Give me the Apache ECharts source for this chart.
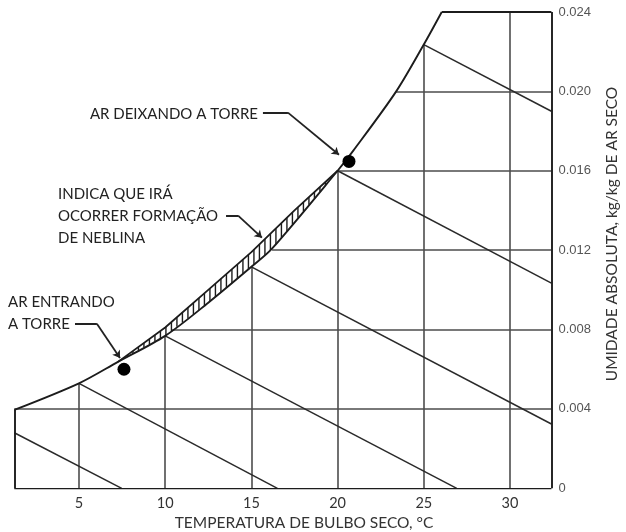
<!DOCTYPE html>
<html>
<head>
<meta charset="utf-8">
<script src="https://cdn.jsdelivr.net/npm/echarts@6/dist/echarts.min.js"></script>
<style>
  html, body { margin: 0; padding: 0; background: #fff; }
  #chart { width: 626px; height: 532px; }
</style>
</head>
<body>
<div id="chart"></div>
<script>
// Axis extents (dry-bulb temperature in °C, humidity ratio in kg/kg dry air)
const tempMin = 1.25;
const tempMax = 32.4;
const humMax = 0.024;
const tempTicks = [5, 10, 15, 20, 25, 30];
const humTicks = [0, 0.004, 0.008, 0.012, 0.016, 0.020, 0.024];

// Saturation curve
const satTemp = [1.25, 5, 7.26, 10, 12.5, 15, 16.18, 20, 20.9, 23.4, 25, 26.04];
const satHum  = [0.00395, 0.00529, 0.00637, 0.00768, 0.00935, 0.01116, 0.01206, 0.0160, 0.0170, 0.0200, 0.02236, 0.024];

// Air path through the tower (upper edge of the fog zone)
const towerTemp = [7.26, 10, 12.5, 15, 17.5, 20];
const towerHum  = [0.00637, 0.0081, 0.0100, 0.0119, 0.0140, 0.0160];

// Inlet / outlet air states
const stateTemp = [7.61, 20.66];
const stateHum  = [0.0060, 0.01647];

// Constant dry-bulb grid lines: top ends on the saturation curve
const gridTempTop = [0.00529, 0.00768, 0.01116, 0.0160, 0.02236, 0.024];
// Constant humidity grid lines: left ends on the saturation curve
const gridHum      = [0.004, 0.008, 0.012, 0.016, 0.020];
const gridHumStart = [1.25, 10.4, 16.2, 20.0, 23.4];

// Wet-bulb lines (start on saturation curve / left edge, end on chart border)
const wbStartT = [1.25, 5, 10, 15, 20, 25];
const wbStartW = [0.0028, 0.00529, 0.00768, 0.01116, 0.0160, 0.02236];
const wbEndT   = [7.48, 16.51, 26.91, 32.4, 32.4, 32.4];
const wbEndW   = [0, 0, 0, 0.00324, 0.01034, 0.0190];

// Leader lines for the callouts: [text end, elbow, arrow tip]
const leaderOut  = [[15.67, 0.01893], [17.12, 0.01893], [20.08, 0.01681]];
const leaderFog  = [[13.53, 0.01374], [14.23, 0.01374], [15.61, 0.01263]];
const leaderIn   = [[4.77, 0.00829], [6.04, 0.00829], [7.38, 0.00657]];

const INK = '#1c1c1c';
const GRID = '#4d4d4d';
const TEXT_FONT = 'Lato, "Open Sans", sans-serif';

const pairs = (xs, ys) => xs.map((x, i) => [x, ys[i]]);

const gridSegs = [];
tempTicks.forEach((t, i) => gridSegs.push({ coords: [[t, 0], [t, gridTempTop[i]]] }));
gridHum.forEach((w, i) => gridSegs.push({ coords: [[gridHumStart[i], w], [tempMax, w]] }));

const wbSegs = wbStartT.map((t, i) => ({ coords: [[t, wbStartW[i]], [wbEndT[i], wbEndW[i]]] }));

const frameSegs = [
  { coords: [[tempMin, 0], [tempMin, satHum[0]]] },
  { coords: [[tempMin, 0], [tempMax, 0]] },
  { coords: [[tempMax, 0], [tempMax, humMax]] },
  { coords: [[satTemp[satTemp.length - 1], humMax], [tempMax, humMax]] }
];

const leaders = [leaderOut, leaderFog, leaderIn];
const leaderFlat = leaders.map(l => ({ coords: [l[0], l[1]] }));
const leaderArrow = leaders.map(l => ({ coords: [l[1], l[2]] }));

function interpY(poly, x) {
  for (let i = 0; i < poly.length - 1; i++) {
    const a = poly[i], b = poly[i + 1];
    if (x >= a[0] && x <= b[0]) {
      const f = (x - a[0]) / (b[0] - a[0] || 1);
      return a[1] + f * (b[1] - a[1]);
    }
  }
  return null;
}

const chart = echarts.init(document.getElementById('chart'), null, { renderer: 'canvas' });

chart.setOption({
  animation: false,
  backgroundColor: '#ffffff',
  grid: { left: 14.3, right: 74.6, top: 12, bottom: 43.7 },
  xAxis: {
    type: 'value', min: tempMin, max: tempMax,
    axisLine: { show: false }, axisTick: { show: false }, splitLine: { show: false },
    axisLabel: {
      customValues: tempTicks, margin: 8,
      color: '#333', fontSize: 14.5, fontFamily: TEXT_FONT,
      formatter: v => String(v)
    }
  },
  yAxis: {
    type: 'value', position: 'right', min: 0, max: humMax, interval: 0.004,
    axisLine: { show: false }, axisTick: { show: false }, splitLine: { show: false },
    axisLabel: {
      margin: 7, color: '#555', fontSize: 13, fontFamily: '"Liberation Sans", Arial, sans-serif',
      formatter: v => (v === 0 ? '0' : v.toFixed(3))
    }
  },
  series: [
    {
      type: 'lines', coordinateSystem: 'cartesian2d', silent: true, z: 1,
      lineStyle: { color: GRID, width: 1.6, opacity: 1 },
      data: gridSegs
    },
    {
      type: 'lines', coordinateSystem: 'cartesian2d', silent: true, z: 2,
      lineStyle: { color: '#2a2a2a', width: 1.5, opacity: 1 },
      data: wbSegs
    },
    {
      type: 'lines', coordinateSystem: 'cartesian2d', silent: true, z: 3,
      lineStyle: { color: INK, width: 1.9, opacity: 1 },
      data: frameSegs
    },
    {
      type: 'line', silent: true, z: 3, symbol: 'none',
      smooth: 0.3,
      lineStyle: { color: INK, width: 1.9 },
      data: pairs(satTemp, satHum)
    },
    {
      type: 'line', silent: true, z: 3, symbol: 'none',
      lineStyle: { color: INK, width: 1.8 },
      data: pairs(towerTemp, towerHum)
    },
    {
      // hatching of the fog zone between the air path and the saturation curve
      type: 'custom', coordinateSystem: 'cartesian2d', silent: true, z: 4,
      data: [[towerTemp[0], towerHum[0]]],
      renderItem: (params, api) => {
        const up = towerTemp.map((t, i) => api.coord([t, towerHum[i]]));
        const lo = satTemp.map((t, i) => api.coord([t, satHum[i]]));
        const x0 = up[0][0], x1 = up[up.length - 1][0];
        const children = [];
        for (let x = x0 + 4; x < x1 - 2; x += 5.5) {
          const ya = interpY(up, x), yb = interpY(lo, x);
          if (ya == null || yb == null || yb - ya < 1) continue;
          children.push({
            type: 'line',
            shape: { x1: x, y1: ya, x2: x, y2: yb },
            style: { stroke: INK, lineWidth: 1.4 }
          });
        }
        return { type: 'group', children };
      }
    },
    {
      type: 'lines', coordinateSystem: 'cartesian2d', silent: true, z: 5,
      lineStyle: { color: '#222', width: 1.8, opacity: 1 },
      data: leaderFlat
    },
    {
      type: 'lines', coordinateSystem: 'cartesian2d', silent: true, z: 5,
      symbol: ['none', 'arrow'], symbolSize: 7,
      lineStyle: { color: '#222', width: 1.8, opacity: 1 },
      data: leaderArrow
    },
    {
      type: 'scatter', silent: true, z: 6,
      symbol: 'circle', symbolSize: 13,
      itemStyle: { color: '#000', opacity: 1 },
      data: pairs(stateTemp, stateHum)
    }
  ],
  graphic: [
    {
      type: 'text', x: 258, y: 114, silent: true,
      style: { text: 'AR DEIXANDO A TORRE', font: '15px ' + TEXT_FONT, fill: '#222', align: 'right', verticalAlign: 'middle' }
    },
    {
      type: 'text', x: 58, y: 216, silent: true,
      style: { text: 'INDICA QUE IRÁ\nOCORRER FORMAÇÃO\nDE NEBLINA', font: '15px ' + TEXT_FONT, lineHeight: 22, fill: '#222', align: 'left', verticalAlign: 'middle' }
    },
    {
      type: 'text', x: 8, y: 313, silent: true,
      style: { text: 'AR ENTRANDO\nA TORRE', font: '15px ' + TEXT_FONT, lineHeight: 22, fill: '#222', align: 'left', verticalAlign: 'middle' }
    },
    {
      type: 'text', x: 304, y: 523, silent: true,
      style: { text: 'TEMPERATURA DE BULBO SECO, °C', font: '15.5px ' + TEXT_FONT, fill: '#333', align: 'center', verticalAlign: 'middle' }
    },
    {
      type: 'text', x: 612, y: 234, rotation: Math.PI / 2, silent: true,
      style: { text: 'UMIDADE ABSOLUTA, kg/kg DE AR SECO', font: '15.5px ' + TEXT_FONT, fill: '#333', align: 'center', verticalAlign: 'middle' }
    }
  ]
});
</script>
</body>
</html>
